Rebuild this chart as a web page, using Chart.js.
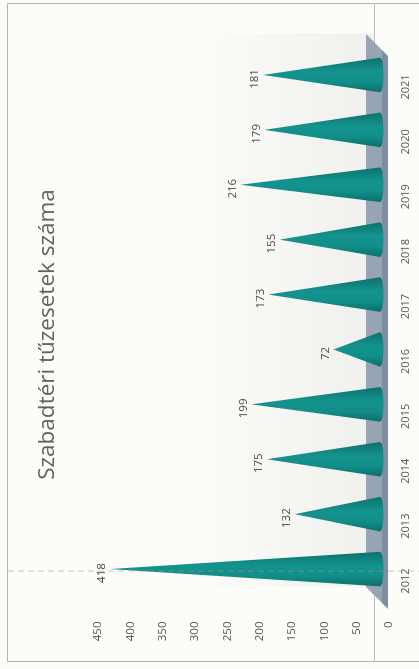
<!DOCTYPE html>
<html>
<head>
<meta charset="utf-8">
<script src="https://cdn.jsdelivr.net/npm/chart.js@4.4.1/dist/chart.umd.min.js"></script>
<style>
html,body{margin:0;padding:0;background:#fcfcf9;overflow:hidden;width:419px;height:669px;}
#wrap{position:absolute;left:0;top:0;width:669px;height:419px;transform-origin:0 0;transform:translate(0px,669px) rotate(-90deg);}
canvas{display:block;}
</style>
</head>
<body>
<div id="wrap"><canvas id="c" width="669" height="419"></canvas></div>
<script>
// ---- data ----
const categories = ['2012','2013','2014','2015','2016','2017','2018','2019','2020','2021'];
const values = [418, 132, 175, 199, 72, 173, 155, 216, 179, 181];
const axisMin = 0;
const axisMax = 450;
const axisStep = 50;
const chartTitle = 'Szabadtéri tűzesetek száma';

// ---- decorations: background, border, floor ----
const decoPlugin = {
  id: 'deco',
  beforeDraw(chart) {
    const {ctx, chartArea: ca, width, height} = chart;
    const y = chart.scales.y;
    const base = y.getPixelForValue(0);
    ctx.save();
    ctx.fillStyle = '#fcfcf9';
    ctx.fillRect(0, 0, width, height);
    // outer border (top, left, right in unrotated frame)
    ctx.strokeStyle = '#b4b4b4';
    ctx.lineWidth = 1;
    ctx.beginPath();
    ctx.moveTo(7.5, height + 2); ctx.lineTo(7.5, 7.5); ctx.lineTo(width - 3.5, 7.5); ctx.lineTo(width - 3.5, height + 2);
    ctx.stroke();
    // wall shading
    const g = ctx.createLinearGradient(0, ca.top + 100, 0, base);
    g.addColorStop(0, 'rgba(200,200,200,0)');
    g.addColorStop(1, 'rgba(200,200,200,0.25)');
    ctx.fillStyle = g;
    ctx.fillRect(ca.left + 10, ca.top, ca.right - ca.left + 4, base - 5 - ca.top);
    // long base line
    ctx.strokeStyle = '#bdbdbd';
    ctx.beginPath();
    ctx.moveTo(8, base - 5.5); ctx.lineTo(width - 4, base - 5.5);
    ctx.stroke();
    // floor top face
    ctx.fillStyle = '#97a4b4';
    ctx.beginPath();
    ctx.moveTo(ca.left + 9.5, base - 14);
    ctx.lineTo(ca.right + 13.5, base - 14);
    ctx.lineTo(ca.right - 2.5, base + 2);
    ctx.lineTo(ca.left - 6.5, base + 2);
    ctx.closePath();
    ctx.fill();
    // floor front face
    ctx.fillStyle = '#808d9e';
    ctx.beginPath();
    ctx.moveTo(ca.left - 6.5, base + 2);
    ctx.lineTo(ca.right - 2.5, base + 2);
    ctx.lineTo(ca.right - 8.5, base + 8);
    ctx.lineTo(ca.left - 12.5, base + 8);
    ctx.closePath();
    ctx.fill();
    ctx.restore();
  },
  afterDatasetsDraw(chart) {
    const {ctx} = chart;
    const meta = chart.getDatasetMeta(0);
    const ds = chart.data.datasets[0].data;
    ctx.save();
    meta.data.forEach((el, i) => {
      const p = el.getProps(['x', 'y', 'base', 'width'], true);
      const hw = p.width / 2;
      const gr = ctx.createLinearGradient(p.x - hw, 0, p.x + hw, 0);
      gr.addColorStop(0, '#0b6f6b');
      gr.addColorStop(0.3, '#128e89');
      gr.addColorStop(0.6, '#14938e');
      gr.addColorStop(1, '#0c716d');
      ctx.fillStyle = gr;
      ctx.beginPath();
      ctx.moveTo(p.x - hw, p.base);
      ctx.lineTo(p.x, p.y);
      ctx.lineTo(p.x + hw, p.base);
      ctx.ellipse(p.x, p.base, hw, 3.5, 0, 0, Math.PI, false);
      ctx.closePath();
      ctx.fill();
    });
    // faint dashed line through first category
    const x0 = chart.scales.x.getPixelForValue(0) - 2;
    ctx.strokeStyle = 'rgba(175,150,115,0.55)';
    ctx.setLineDash([6, 4]);
    ctx.lineWidth = 1;
    ctx.beginPath();
    ctx.moveTo(x0, 8); ctx.lineTo(x0, chart.height);
    ctx.stroke();
    ctx.setLineDash([]);
    // value labels
    ctx.fillStyle = '#4a4a4a';
    ctx.font = '11.5px "Open Sans"';
    ctx.textAlign = 'center';
    ctx.textBaseline = 'bottom';
    meta.data.forEach((el, i) => {
      const p = el.getProps(['x', 'y'], true);
      ctx.fillText(String(ds[i]), p.x - 4, p.y - 2);
    });
    ctx.restore();
  }
};

new Chart(document.getElementById('c'), {
  type: 'bar',
  data: {
    labels: categories,
    datasets: [{
      data: values,
      backgroundColor: 'rgba(0,0,0,0)',
      borderWidth: 0,
      barPercentage: 0.63,
      categoryPercentage: 1
    }]
  },
  options: {
    responsive: false,
    animation: false,
    devicePixelRatio: 1,
    layout: { padding: 0 },
    plugins: {
      legend: { display: false },
      tooltip: { enabled: false },
      title: {
        display: true,
        text: chartTitle,
        color: '#626262',
        font: { family: 'Open Sans', size: 22.5, weight: 'normal', lineHeight: 1.2 },
        padding: { top: 34.5, bottom: 27.5 }
      }
    },
    scales: {
      x: {
        grid: { display: false, drawTicks: false },
        border: { display: false },
        ticks: { color: '#555', font: { family: 'Open Sans', size: 11 }, padding: 19, labelOffset: -12, maxRotation: 0, minRotation: 0, autoSkip: false },
        afterFit(s) { s.height = 39; }
      },
      y: {
        min: axisMin, max: axisMax,
        grid: { display: false, drawTicks: false },
        border: { display: false },
        ticks: { stepSize: axisStep, color: '#555', font: { family: 'Open Sans', size: 11.5 }, padding: 25, labelOffset: 9 },
        afterFit(s) { s.width = 72.5; }
      },
      ySpacer: {
        position: 'right',
        min: axisMin, max: axisMax,
        grid: { display: false, drawTicks: false },
        border: { display: false },
        ticks: { display: false },
        afterFit(s) { s.width = 47.5; }
      }
    }
  },
  plugins: [decoPlugin]
});
</script>
</body>
</html>
